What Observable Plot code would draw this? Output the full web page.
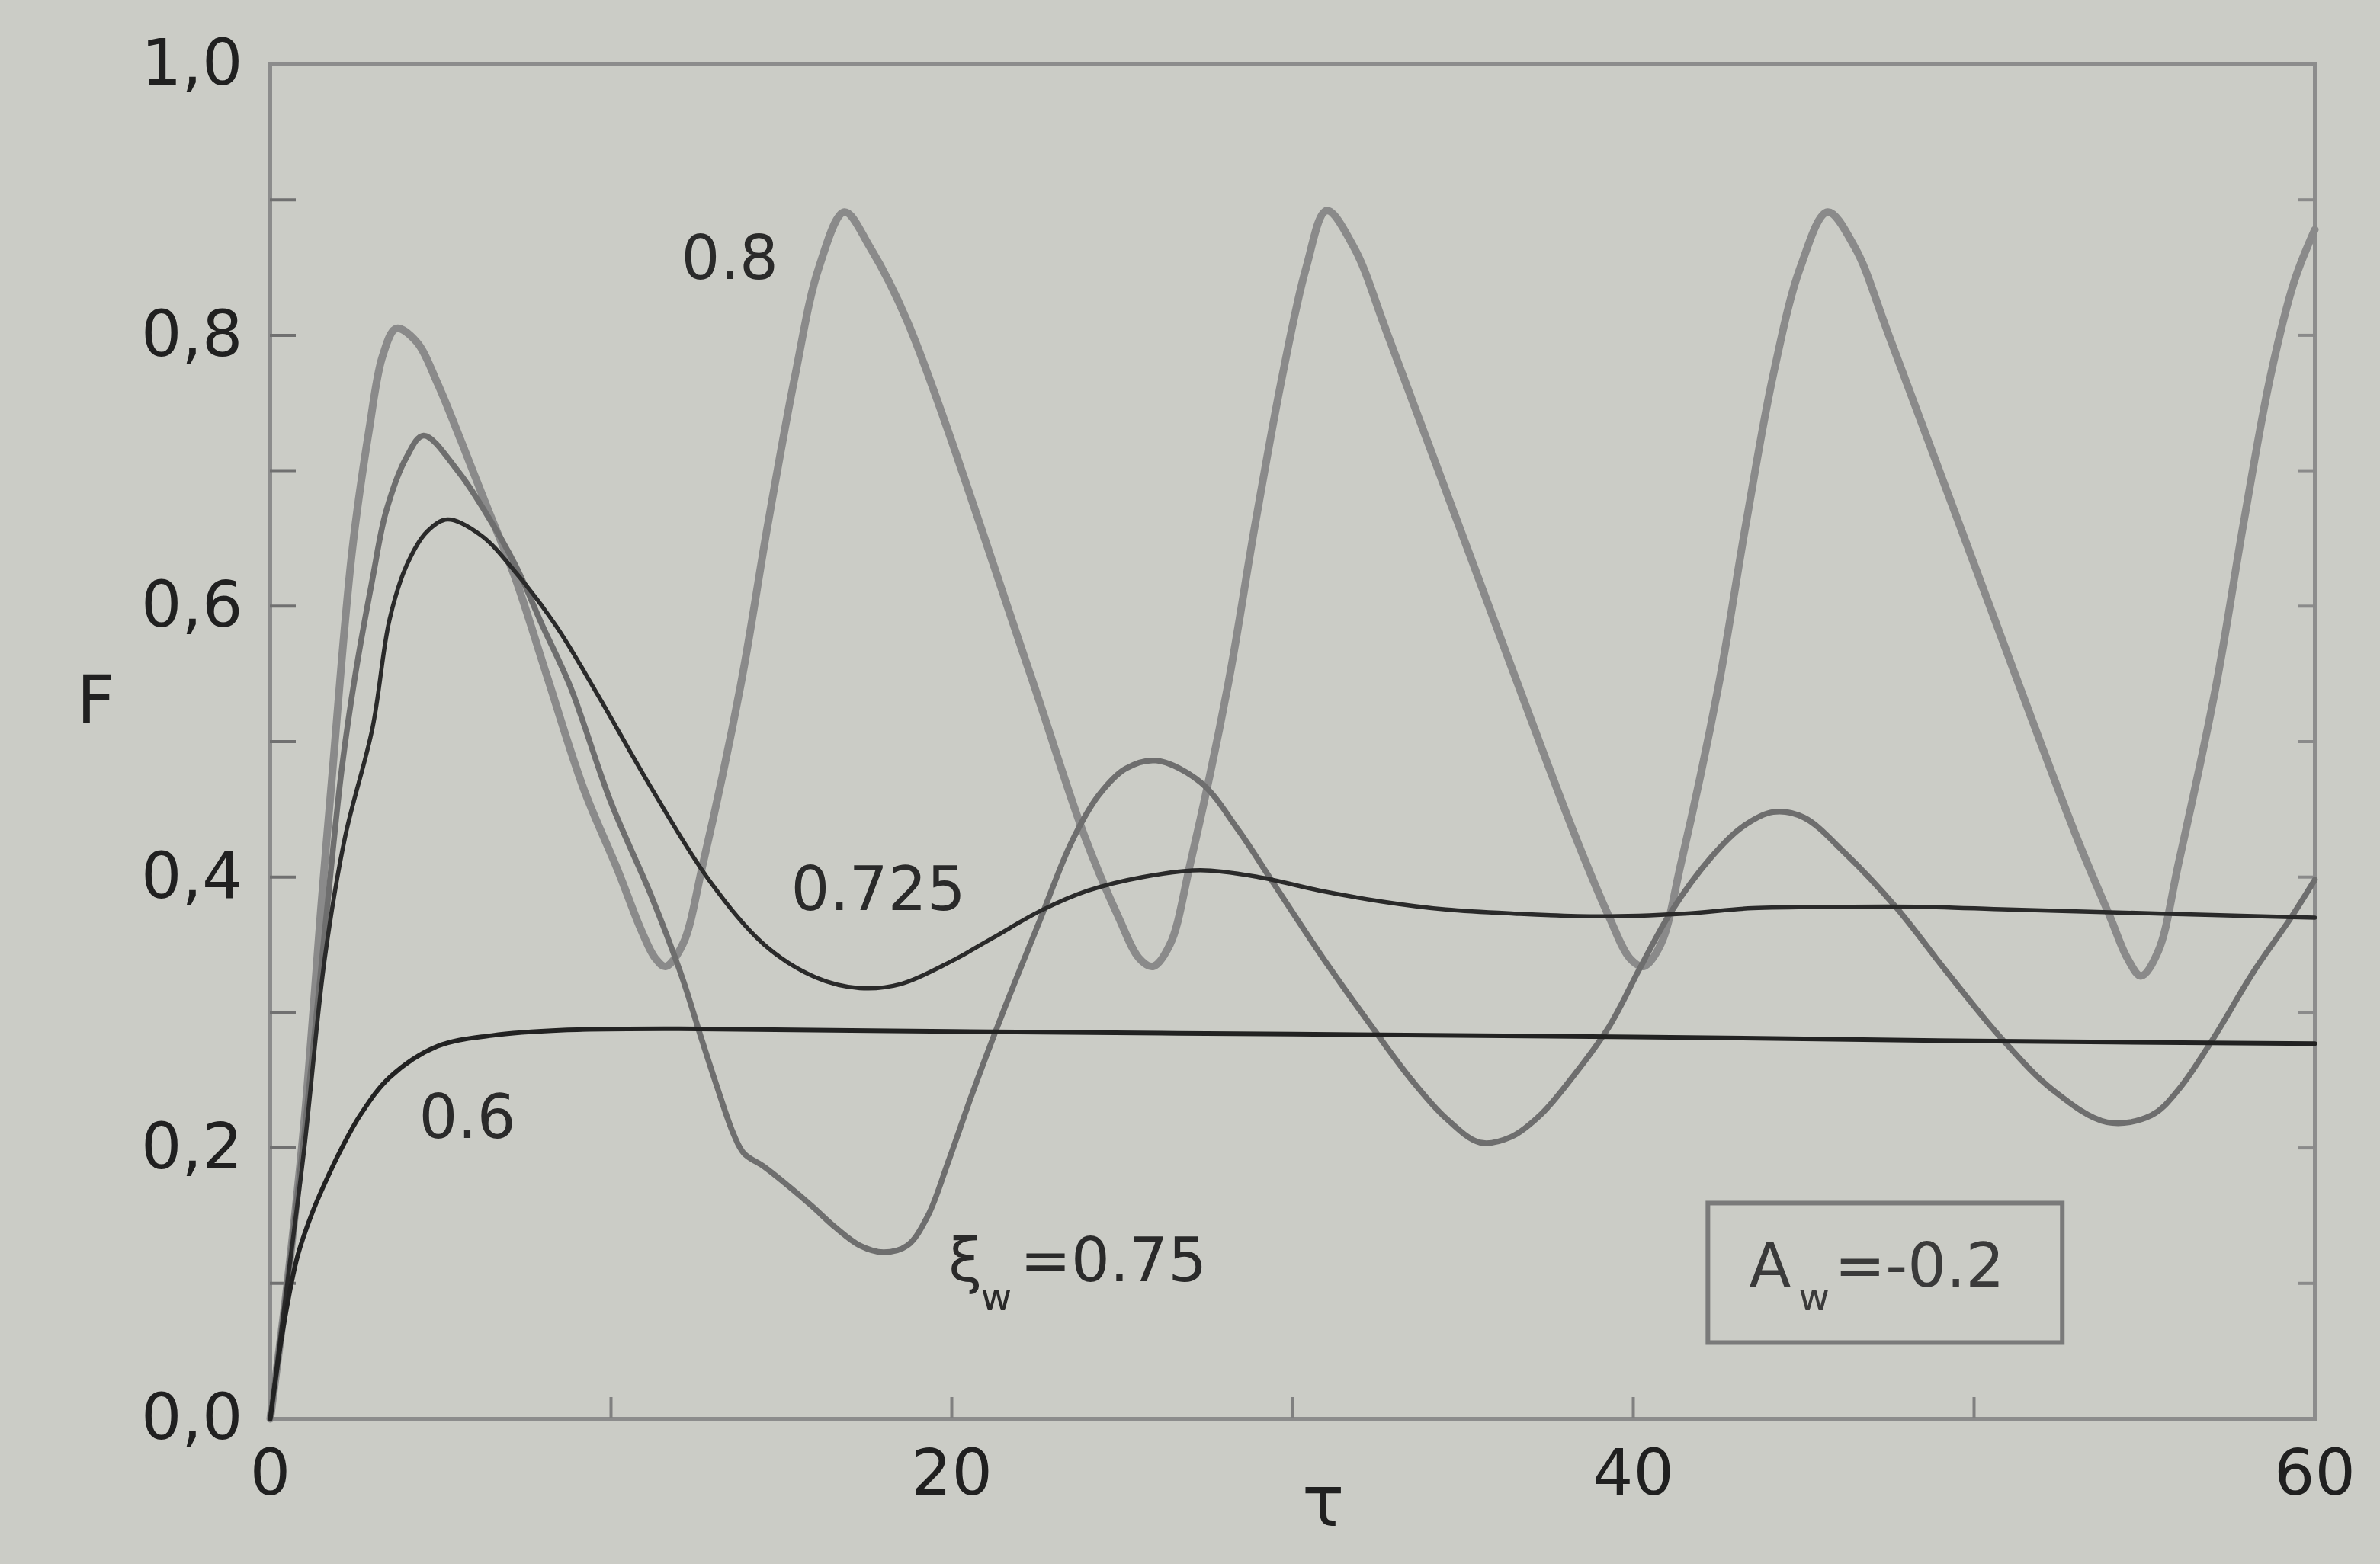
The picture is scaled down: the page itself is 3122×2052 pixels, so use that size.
<!DOCTYPE html>
<html>
<head>
<meta charset="utf-8">
<script src="https://cdn.jsdelivr.net/npm/d3@7"></script>
<script src="https://cdn.jsdelivr.net/npm/@observablehq/plot@0.6"></script>
<style>
  html, body { margin: 0; padding: 0; background: #cbccc6; }
  #chart { width: 3122px; height: 2052px; overflow: hidden; }
</style>
</head>
<body>
<div id="chart"></div>
<script>
// ---- data ----
const tau06 = [0, 0.4, 0.8, 1.2, 1.55, 2.1, 2.66, 3.5, 4.9, 6.5, 8.6, 12, 20, 30, 40, 50, 60];
const F06   = [0, 0.07, 0.12, 0.15, 0.171, 0.2, 0.225, 0.252, 0.275, 0.283, 0.287, 0.288, 0.286, 0.284, 0.282, 0.279, 0.277];

const tau0725 = [0, 0.5, 1, 1.6, 2.2, 3.0, 3.5, 4.0, 4.6, 5.2, 6.2, 7.2, 8.4, 9.6, 11.2, 12.9, 14.5, 16.0, 17.3, 18.5,
                 20.0, 21.2, 22.6, 24.0, 25.6, 27.3, 29.0, 30.8, 32.6, 34.5, 36.5, 39.0, 41.5, 43.5, 46.0, 48.5, 51.0, 54.0, 57.0, 60];
const F0725   = [0, 0.1, 0.2, 0.34, 0.43, 0.51, 0.59, 0.63, 0.655, 0.664, 0.652, 0.625, 0.585, 0.535, 0.465, 0.397, 0.35, 0.326, 0.318, 0.321,
                 0.338, 0.355, 0.375, 0.39, 0.4, 0.405, 0.4, 0.39, 0.382, 0.376, 0.373, 0.371, 0.373, 0.377, 0.378, 0.378, 0.376, 0.374, 0.372, 0.37];

const tau075 = [0, 0.5, 1, 1.6, 2.1, 2.5, 3.0, 3.4, 4.0, 4.5, 5.5, 6.3, 7.2, 8.0, 8.8, 10.0, 11.2, 12.1, 12.6, 13.1,
                13.6, 13.9, 14.5, 15.2, 15.9, 16.6, 17.3, 18.0, 18.7, 19.3, 19.9, 20.6, 21.5, 22.6, 23.5, 24.3, 25.1, 26.0,
                27.3, 28.4, 29.4, 30.9, 32.4, 33.5, 34.5, 35.5, 36.4, 37.3, 38.3, 39.3, 40.2, 41.1, 42.3, 43.2, 44.1, 45.0, 46.2, 47.7,
                49.2, 50.8, 52.3, 53.9, 55.2, 56.0, 57.0, 58.2, 59.3, 60];
const F075   = [0, 0.1, 0.21, 0.36, 0.48, 0.55, 0.62, 0.67, 0.71, 0.726, 0.70, 0.67, 0.63, 0.585, 0.541, 0.455, 0.385, 0.325, 0.285, 0.246,
                0.21, 0.196, 0.186, 0.172, 0.157, 0.141, 0.128, 0.123, 0.128, 0.15, 0.19, 0.24, 0.3, 0.369, 0.425, 0.46, 0.48, 0.486,
                0.47, 0.435, 0.397, 0.34, 0.287, 0.25, 0.222, 0.204, 0.208, 0.225, 0.255, 0.29, 0.333, 0.374, 0.415, 0.437, 0.448, 0.444, 0.418, 0.378,
                0.33, 0.281, 0.243, 0.219, 0.224, 0.243, 0.28, 0.33, 0.37, 0.398];

const tau08 = [0, 0.5, 1, 1.5, 1.8, 2.4, 2.9, 3.3, 3.7, 4.3, 4.9, 5.6, 6.35, 7.2, 8.1, 9.2, 10.2, 10.9, 11.3, 11.6,
               12.1, 12.7, 13.8, 14.6, 15.4, 16.1, 16.85,
               17.6, 18.7, 22.3, 23.9, 24.9, 25.5, 25.9,
               26.4, 27.0, 28.1, 28.9, 29.7, 30.4, 31.0,
               31.8, 32.8, 36.5, 38.3, 39.3, 39.9, 40.3,
               40.8, 41.4, 42.5, 43.3, 44.1, 44.9, 45.7,
               46.5, 47.5, 51.2, 53.0, 54.0, 54.5, 54.9,
               55.4, 56.0, 57.1, 57.9, 58.7, 59.4, 60];
const F08   = [0, 0.1, 0.22, 0.38, 0.47, 0.64, 0.73, 0.785, 0.805, 0.795, 0.765, 0.722, 0.674, 0.62, 0.55, 0.465, 0.405, 0.36, 0.34, 0.334,
               0.35, 0.41, 0.541, 0.66, 0.77, 0.85, 0.891,
               0.865, 0.81, 0.55, 0.43, 0.37, 0.34, 0.334,
               0.35, 0.41, 0.541, 0.66, 0.77, 0.85, 0.892,
               0.865, 0.80, 0.55, 0.43, 0.37, 0.34, 0.334,
               0.35, 0.41, 0.541, 0.66, 0.77, 0.85, 0.891,
               0.865, 0.80, 0.55, 0.43, 0.37, 0.34, 0.327,
               0.345, 0.41, 0.541, 0.66, 0.77, 0.84, 0.878];

const yLabelTicks = [0, 0.2, 0.4, 0.6, 0.8, 1.0];
const yMinorTicks = [0.1, 0.2, 0.3, 0.4, 0.5, 0.6, 0.7, 0.8, 0.9];
const xLabelTicks = [0, 20, 40, 60];
const xMinorTicks = [10, 20, 30, 40, 50];

const curveLabels = [
  {text: "0.8",   tau: 12.06, F: 0.856},
  {text: "0.725", tau: 15.28, F: 0.39},
  {text: "0.6",   tau: 4.36,  F: 0.222}
];
const xiLabel  = [{text: "ξ", tau: 19.9, F: 0.116}, {text: "=0.75", tau: 22.0, F: 0.116}];
const xiSub    = [{text: "w", tau: 20.85, F: 0.089}];
const aLabel   = [{text: "A", tau: 43.4, F: 0.112}, {text: "=-0.2", tau: 45.9, F: 0.112}];
const aSub     = [{text: "w", tau: 44.85, F: 0.089}];
const boxAnno  = [{t1: 42.2, t2: 52.6, f1: 0.056, f2: 0.159}];
const yLabel   = [{text: "F", F: 0.53}];
const xLabel   = [{text: "τ", tau: 30.9}];

// ---- build table ----
const series = [
  {key: "0.6",   tau: tau06,   F: F06},
  {key: "0.725", tau: tau0725, F: F0725},
  {key: "0.75",  tau: tau075,  F: F075},
  {key: "0.8",   tau: tau08,   F: F08}
];
const rows = series.flatMap(s => s.tau.map((t, i) => ({series: s.key, tau: t, F: s.F[i]})));
const of = k => rows.filter(d => d.series === k);

const font = "'DejaVu Sans', 'Liberation Sans', Arial, sans-serif";
const ink = "#202020";

const chart = Plot.plot({
  width: 3122,
  height: 2052,
  marginLeft: 354,
  marginRight: 86,
  marginTop: 84,
  marginBottom: 191,
  x: {domain: [0, 60]},
  y: {domain: [0, 1]},
  style: {background: "#cbccc6", fontFamily: font, color: ink},
  marks: [
    Plot.frame({stroke: "#8c8c8c", strokeWidth: 5}),
    // inward tick marks
    Plot.axisY({ticks: yMinorTicks, tickSize: 34, dx: 34, tickFormat: () => "", label: null, stroke: "#707070", strokeWidth: 4}),
    Plot.axisY({anchor: "right", ticks: yMinorTicks, tickSize: 22, dx: -22, tickFormat: () => "", label: null, stroke: "#8a8a8a", strokeWidth: 4}),
    Plot.axisX({ticks: xMinorTicks, tickSize: 28, dy: -28, tickFormat: () => "", label: null, stroke: "#808080", strokeWidth: 4}),
    // tick labels
    Plot.axisY({ticks: yLabelTicks, tickSize: 0, tickPadding: 36, fontSize: 84,
                tickFormat: d => d.toFixed(1).replace(".", ","), label: null, fill: ink}),
    Plot.axisX({ticks: xLabelTicks, tickSize: 0, tickPadding: 40, fontSize: 84,
                tickFormat: d => String(d), label: null, fill: ink}),
    // curves
    Plot.line(of("0.8"),   {x: "tau", y: "F", stroke: "#8a8a8a", strokeWidth: 10, curve: "catmull-rom"}),
    Plot.line(of("0.75"),  {x: "tau", y: "F", stroke: "#6e6e6e", strokeWidth: 7.5, curve: "catmull-rom"}),
    Plot.line(of("0.725"), {x: "tau", y: "F", stroke: "#2a2a2a", strokeWidth: 5.5, curve: "catmull-rom"}),
    Plot.line(of("0.6"),   {x: "tau", y: "F", stroke: "#222222", strokeWidth: 6, curve: "catmull-rom"}),
    // annotations
    Plot.text(curveLabels, {x: "tau", y: "F", text: "text", textAnchor: "start", fontSize: 80, fill: "#2a2a2a"}),
    Plot.text(xiLabel, {x: "tau", y: "F", text: "text", textAnchor: "start", fontSize: 80, fill: "#2a2a2a"}),
    Plot.text(xiSub,   {x: "tau", y: "F", text: "text", textAnchor: "start", fontSize: 50, fill: "#2a2a2a"}),
    Plot.rect(boxAnno, {x1: "t1", x2: "t2", y1: "f1", y2: "f2", fill: "none", stroke: "#7a7a7a", strokeWidth: 6}),
    Plot.text(aLabel, {x: "tau", y: "F", text: "text", textAnchor: "start", fontSize: 80, fill: "#3a3a3a"}),
    Plot.text(aSub,   {x: "tau", y: "F", text: "text", textAnchor: "start", fontSize: 50, fill: "#3a3a3a"}),
    Plot.text(yLabel, {y: "F", text: "text", frameAnchor: "left", dx: -254, fontSize: 88, fill: ink}),
    Plot.text(xLabel, {x: "tau", text: "text", frameAnchor: "bottom", dy: 140, fontSize: 92, fill: ink})
  ]
});

document.getElementById("chart").append(chart);
</script>
</body>
</html>
